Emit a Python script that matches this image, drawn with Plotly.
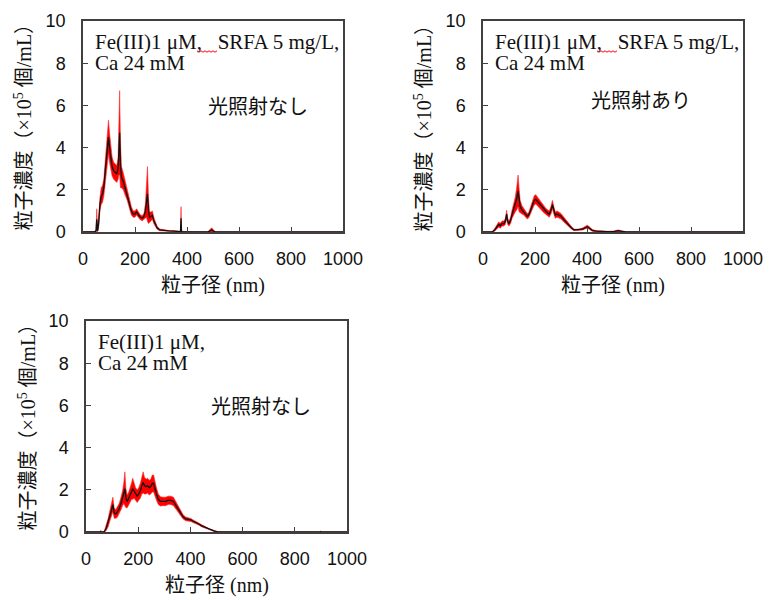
import plotly.graph_objects as go

W, H = 772, 600

# ---------------- data ----------------
# Panel 1: Fe(III) 1 uM, SRFA 5 mg/L, Ca 24 mM, no light
size_1 = [0, 30, 45, 50, 53, 56, 60, 65, 70, 75, 80, 85, 90, 95, 98, 102, 107, 112, 118, 124,
          130, 135, 138, 141, 144, 148, 155, 162, 170, 178, 186, 193, 200, 206, 212, 220, 228,
          235, 240, 244, 248, 252, 256, 262, 267, 272, 278, 285, 295, 310, 330, 350, 370, 375,
          377, 379, 400, 420, 480, 488, 495, 502, 510, 1000]
mean_1 = [0, 0, 0.0, 0.05, 0.6, 0.05, 0.4, 1.3, 1.7, 1.8, 2.1, 2.8, 3.6, 4.3, 4.5, 4.0, 3.4, 3.1, 2.9, 2.8,
          2.75, 3.0, 3.8, 4.7, 3.2, 2.6, 2.4, 2.1, 1.8, 1.4, 1.0, 0.85, 0.85, 0.95, 0.85, 0.7, 0.65,
          0.75, 1.0, 1.5, 1.8, 1.0, 0.7, 0.75, 0.8, 0.55, 0.35, 0.2, 0.1, 0.07, 0.05, 0.04, 0.02, 0.02,
          0.65, 0.02, 0.01, 0.01, 0.0, 0.05, 0.1, 0.04, 0.0, 0]
sd_1 = [0, 0, 0.03, 0.06, 0.5, 0.06, 0.2, 0.3, 0.4, 0.4, 0.4, 0.5, 0.6, 0.7, 0.8, 0.7, 0.5, 0.45, 0.4, 0.4,
        0.4, 0.5, 1.1, 2.0, 1.1, 0.5, 0.4, 0.35, 0.3, 0.25, 0.2, 0.15, 0.15, 0.15, 0.15, 0.12, 0.12,
        0.15, 0.35, 0.8, 1.3, 0.6, 0.25, 0.2, 0.2, 0.15, 0.1, 0.07, 0.04, 0.03, 0.02, 0.02, 0.01, 0.01,
        0.55, 0.01, 0.01, 0.0, 0.0, 0.06, 0.1, 0.05, 0.0, 0]

# Panel 2: Fe(III) 1 uM, SRFA 5 mg/L, Ca 24 mM, with light
size_2 = [0, 35, 45, 55, 60, 67, 73, 80, 86, 91, 95, 100, 106, 112, 118, 124, 130, 135, 139, 143,
          150, 157, 163, 170, 176, 183, 190, 197, 203, 210, 218, 226, 233, 240, 248, 255, 262, 267,
          272, 278, 285, 292, 300, 310, 320, 330, 340, 350, 360, 375, 385, 395, 402, 410, 420, 435,
          450, 480, 505, 520, 535, 550, 1000]
mean_2 = [0, 0, 0.1, 0.25, 0.35, 0.3, 0.4, 0.4, 0.5, 0.85, 0.5, 0.4, 0.55, 0.85, 1.1, 1.3, 1.6, 1.95, 1.5, 1.2,
          1.05, 0.95, 0.85, 0.75, 0.8, 1.05, 1.3, 1.5, 1.55, 1.45, 1.3, 1.2, 1.1, 1.0, 0.9, 0.85, 1.05, 1.3,
          1.05, 0.8, 0.85, 0.8, 0.75, 0.6, 0.45, 0.32, 0.2, 0.1, 0.1, 0.12, 0.15, 0.22, 0.25, 0.18, 0.08, 0.04,
          0.03, 0.02, 0.03, 0.06, 0.03, 0.0, 0]
sd_2 = [0, 0, 0.06, 0.1, 0.12, 0.12, 0.12, 0.12, 0.14, 0.18, 0.14, 0.12, 0.15, 0.2, 0.25, 0.35, 0.55, 0.75, 0.55, 0.3,
        0.2, 0.15, 0.13, 0.13, 0.13, 0.15, 0.18, 0.22, 0.22, 0.2, 0.18, 0.18, 0.18, 0.15, 0.15, 0.15, 0.18, 0.2,
        0.18, 0.15, 0.15, 0.15, 0.13, 0.12, 0.1, 0.08, 0.06, 0.04, 0.03, 0.04, 0.05, 0.06, 0.07, 0.06, 0.04, 0.03,
        0.02, 0.01, 0.02, 0.04, 0.02, 0.0, 0]

# Panel 3: Fe(III) 1 uM, Ca 24 mM, no light
size_3 = [0, 50, 57, 62, 70, 78, 85, 92, 98, 103, 108, 114, 120, 127, 134, 140, 145, 149, 153, 158,
          164, 170, 175, 179, 184, 190, 196, 202, 208, 214, 219, 224, 230, 236, 242, 248, 254, 259,
          264, 270, 277, 285, 295, 305, 315, 325, 335, 343, 352, 362, 372, 382, 392, 402, 412, 422,
          432, 442, 452, 462, 472, 482, 492, 505, 520, 895, 900, 905, 1000]
mean_3 = [0, 0, 0.02, 0, 0.0, 0.2, 0.45, 0.8, 1.05, 1.3, 0.9, 0.85, 0.95, 1.1, 1.35, 1.6, 1.85, 2.05, 1.6, 1.45,
          1.6, 1.75, 1.95, 2.05, 1.95, 1.8, 1.7, 1.8, 1.95, 2.2, 2.35, 2.2, 2.15, 2.2, 2.1, 2.15, 2.3, 2.3,
          2.05, 1.8, 1.55, 1.45, 1.45, 1.45, 1.5, 1.5, 1.45, 1.3, 1.1, 0.9, 0.72, 0.62, 0.6, 0.57, 0.5, 0.45,
          0.38, 0.3, 0.25, 0.18, 0.12, 0.07, 0.04, 0.01, 0.0, 0, 0.02, 0, 0]
sd_3 = [0, 0, 0.05, 0, 0.03, 0.12, 0.2, 0.25, 0.3, 0.35, 0.25, 0.2, 0.25, 0.25, 0.3, 0.35, 0.5, 0.8, 0.45, 0.3,
        0.3, 0.35, 0.4, 0.5, 0.35, 0.3, 0.3, 0.3, 0.35, 0.4, 0.5, 0.4, 0.35, 0.35, 0.35, 0.35, 0.4, 0.4,
        0.35, 0.3, 0.25, 0.22, 0.2, 0.2, 0.2, 0.2, 0.2, 0.17, 0.14, 0.12, 0.1, 0.09, 0.08, 0.07, 0.06, 0.06,
        0.05, 0.05, 0.05, 0.04, 0.03, 0.03, 0.02, 0.01, 0.0, 0, 0.03, 0, 0]

x_ticks = [0, 200, 400, 600, 800, 1000]
y_ticks = [0, 2, 4, 6, 8, 10]

cond_line1 = ["Fe(III)1 μM,\u00a0\u00a0\u00a0SRFA 5 mg/L,", "Fe(III)1 μM,\u00a0\u00a0\u00a0SRFA 5 mg/L,", "Fe(III)1 μM,"]
cond_line2 = ["Ca 24 mM", "Ca 24 mM", "Ca 24 mM"]
light_labels = ["光照射なし", "光照射あり", "光照射なし"]
x_title = "粒子径 (nm)"
y_title = "粒子濃度（×10<sup>5</sup> 個/mL）"

# ---------------- layout helpers ----------------
LATIN = "Liberation Serif, Noto Sans CJK JP"
SANS = "Liberation Sans, Arial"
FRAME = "#404040"

def px(x):
    return x / W

def py(y):
    return 1 - y / H

# plot boxes in pixels: (left, right, top, bottom)
boxes = [(83, 343, 21, 232), (483, 743, 21, 232), (86, 347, 321, 532)]

fig = go.Figure()
layout = dict(width=W, height=H, margin=dict(l=0, r=0, t=0, b=0, autoexpand=False),
              paper_bgcolor="white", plot_bgcolor="white", showlegend=False)

data = [(size_1, mean_1, sd_1), (size_2, mean_2, sd_2), (size_3, mean_3, sd_3)]
annotations = []
shapes = []

for i, ((xs, ms, ss), (l, r, t, b)) in enumerate(zip(data, boxes)):
    n = "" if i == 0 else str(i + 1)
    xa, ya = "x" + n, "y" + n
    lower = [max(m - s, 0) for m, s in zip(ms, ss)]
    upper = [m + s for m, s in zip(ms, ss)]
    fig.add_trace(go.Scatter(x=xs, y=lower, mode="lines", line=dict(width=0.6, color="rgb(255,40,40)"),
                             xaxis=xa, yaxis=ya, hoverinfo="skip"))
    fig.add_trace(go.Scatter(x=xs, y=upper, mode="lines", line=dict(width=0.6, color="rgb(255,40,40)"),
                             fill="tonexty", fillcolor="rgb(255,0,0)",
                             xaxis=xa, yaxis=ya, hoverinfo="skip"))
    fig.add_trace(go.Scatter(x=xs, y=ms, mode="lines", line=dict(width=1.3, color="#111111"),
                             xaxis=xa, yaxis=ya))
    axis_common = dict(showline=True, mirror=True, linecolor=FRAME, linewidth=1.5,
                       ticks="inside", ticklen=5, tickwidth=1.2, tickcolor=FRAME,
                       showgrid=False, zeroline=False, automargin=False,
                       tickfont=dict(family=SANS, size=18, color="#111111"))
    layout["xaxis" + n] = dict(axis_common, domain=[px(l), px(r)], range=[0, 1000],
                               tickvals=x_ticks, anchor=ya, ticklabelstandoff=10)
    layout["yaxis" + n] = dict(axis_common, domain=[py(b), py(t)], range=[0, 10],
                               tickvals=y_ticks, anchor=xa, ticklabelstandoff=12)
    # condition text
    annotations.append(dict(text=cond_line1[i], x=px(l + 10), y=py(t + 21), xref="paper", yref="paper",
                            xanchor="left", yanchor="middle", showarrow=False,
                            font=dict(family=LATIN, size=21, color="#111111")))
    annotations.append(dict(text=cond_line2[i], x=px(l + 10), y=py(t + 42), xref="paper", yref="paper",
                            xanchor="left", yanchor="middle", showarrow=False,
                            font=dict(family=LATIN, size=21, color="#111111")))
    lx = 207 if i != 1 else 590
    annotations.append(dict(text=light_labels[i], x=px(lx + (l - boxes[0][0] if i == 2 else 0) - 1),
                            y=py(t + (84 if i != 1 else 79)), xref="paper", yref="paper",
                            xanchor="left", yanchor="middle", showarrow=False,
                            font=dict(family="Noto Sans CJK JP", size=20, color="#111111")))
    # axis titles
    annotations.append(dict(text=x_title, x=px((l + r) / 2), y=py(b + 53), xref="paper", yref="paper",
                            xanchor="center", yanchor="middle", showarrow=False,
                            font=dict(family=LATIN, size=20, color="#111111")))
    annotations.append(dict(text=y_title, x=px(l - 60), y=py((t + b) / 2 - 4), xref="paper", yref="paper",
                            xanchor="center", yanchor="middle", showarrow=False, textangle=-90,
                            font=dict(family=LATIN, size=20, color="#111111")))
    # spell-check wavy underline decoration
    if i < 2:
        x0, yb = l + 114, t + 30
        pts = []
        for k in range(11):
            xx = x0 + k * 2
            yy = yb + (1.2 if k % 2 else -0.2)
            pts.append(f"{px(xx):.5f},{py(yy):.5f}")
        shapes.append(dict(type="path", xref="paper", yref="paper",
                           path="M" + " L".join(pts), line=dict(color="red", width=1)))

layout["annotations"] = annotations
layout["shapes"] = shapes
fig.update_layout(**layout)
fig.write_html("out.html", config={"displayModeBar": False},
               post_script="document.body.style.margin='0';document.body.style.padding='0';")
